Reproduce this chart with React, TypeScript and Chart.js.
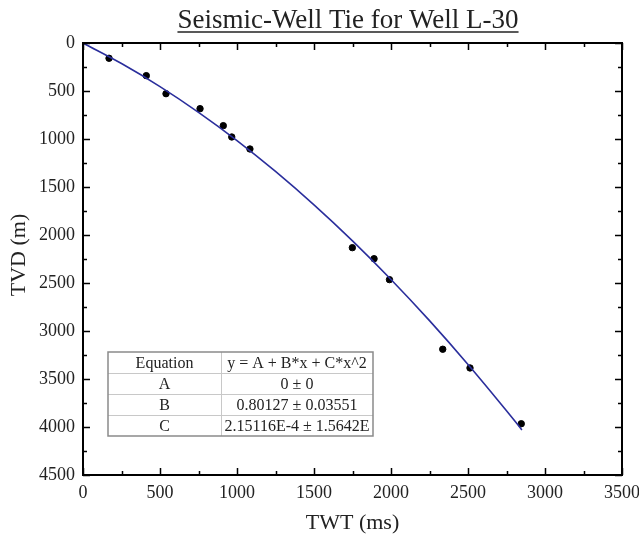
import React, { useEffect, useRef } from "react";
import { Chart, registerables } from "chart.js";

Chart.register(...registerables);

const TITLE = "Seismic-Well Tie for Well L-30";
const X_TITLE = "TWT (ms)";
const Y_TITLE = "TVD (m)";

// Measured data points (TWT ms, TVD m)
const TWT = [169, 411, 539, 760, 911, 966, 1084, 1749, 1890, 1990, 2336, 2513, 2846];
const TVD = [159, 340, 528, 684, 861, 979, 1104, 2132, 2247, 2465, 3190, 3385, 3966];

// Fit curve
const FIT_X = [0, 250, 500, 750, 1000, 1250, 1500, 1750, 2000, 2250, 2500, 2750, 2850];
const FIT_Y = [0, 214, 454, 722, 1016, 1338, 1686, 2061, 2463, 2892, 3348, 3830, 4031];

const X_MIN = 0, X_MAX = 3500, X_STEP = 500;
const Y_MIN = 0, Y_MAX = 4500, Y_STEP = 500;

const TABLE_ROWS: [string, string][] = [
  ["Equation", "y = A + B*x + C*x^2"],
  ["A", "0 \u00b1 0"],
  ["B", "0.80127 \u00b1 0.03551"],
  ["C", "2.15116E-4 \u00b1 1.5642E"],
];

const SERIF = '"Liberation Serif", "Times New Roman", serif';

const decorPlugin = {
  id: "decor",
  afterDatasetsDraw(chart: any) {
    const { ctx, chartArea: a, scales } = chart;
    const xs = scales.x, ys = scales.y;
    ctx.save();
    // frame
    ctx.strokeStyle = "#000";
    ctx.lineWidth = 2;
    ctx.strokeRect(a.left, a.top, a.right - a.left, a.bottom - a.top);
    // ticks
    ctx.lineWidth = 1.5;
    ctx.beginPath();
    for (let v = X_MIN; v <= X_MAX; v += X_STEP / 2) {
      const px = Math.round(xs.getPixelForValue(v)) + 0.5;
      const len = v % X_STEP === 0 ? 7 : 4;
      ctx.moveTo(px, a.bottom); ctx.lineTo(px, a.bottom - len);
      ctx.moveTo(px, a.top); ctx.lineTo(px, a.top + len);
    }
    for (let v = Y_MIN; v <= Y_MAX; v += Y_STEP / 2) {
      const py = Math.round(ys.getPixelForValue(v)) + 0.5;
      const len = v % Y_STEP === 0 ? 7 : 4;
      ctx.moveTo(a.left, py); ctx.lineTo(a.left + len, py);
      ctx.moveTo(a.right, py); ctx.lineTo(a.right - len, py);
    }
    ctx.stroke();

    // table
    const tl = a.left + 25, tr = a.left + 290, tm = a.left + 138;
    const tt = a.top + 309, rh = 21;
    ctx.strokeStyle = "#c8c8c8";
    ctx.lineWidth = 1;
    for (let i = 1; i < TABLE_ROWS.length; i++) {
      const y = Math.round(tt + i * rh) + 0.5;
      ctx.beginPath(); ctx.moveTo(tl, y); ctx.lineTo(tr, y); ctx.stroke();
    }
    ctx.beginPath(); ctx.moveTo(tm + 0.5, tt); ctx.lineTo(tm + 0.5, tt + rh * TABLE_ROWS.length); ctx.stroke();
    ctx.strokeStyle = "#8a8a8a";
    ctx.lineWidth = 1.5;
    ctx.strokeRect(tl, tt, tr - tl, rh * TABLE_ROWS.length);
    ctx.fillStyle = "#222";
    ctx.font = `16px ${SERIF}`;
    ctx.textAlign = "center";
    ctx.textBaseline = "middle";
    TABLE_ROWS.forEach((r, i) => {
      const cy = tt + i * rh + rh / 2 + 1;
      ctx.fillText(r[0], (tl + tm) / 2, cy);
      ctx.fillText(r[1], (tm + tr) / 2, cy);
    });

    // title
    ctx.fillStyle = "#222";
    ctx.font = `27px ${SERIF}`;
    ctx.textAlign = "center";
    ctx.textBaseline = "alphabetic";
    const cx = 348;
    ctx.fillText(TITLE, cx, 28);
    const w = ctx.measureText(TITLE).width;
    ctx.strokeStyle = "#222";
    ctx.lineWidth = 1.5;
    ctx.beginPath(); ctx.moveTo(cx - w / 2, 32); ctx.lineTo(cx + w / 2, 32); ctx.stroke();

    // axis titles
    ctx.font = `22px ${SERIF}`;
    ctx.textBaseline = "middle";
    ctx.fillText(X_TITLE, (a.left + a.right) / 2, 523);
    ctx.save();
    ctx.translate(19, (a.top + a.bottom) / 2 - 4);
    ctx.rotate(-Math.PI / 2);
    ctx.fillText(Y_TITLE, 0, 0);
    ctx.restore();
    ctx.restore();
  },
};

export default function App() {
  const ref = useRef<HTMLCanvasElement>(null);
  useEffect(() => {
    document.body.style.margin = "0";
    const chart = new Chart(ref.current as HTMLCanvasElement, {
      type: "scatter",
      data: {
        datasets: [
          {
            type: "line",
            label: "Fit",
            data: FIT_X.map((x, i) => ({ x, y: FIT_Y[i] })),
            borderColor: "#2a2e9c",
            borderWidth: 1.6,
            pointRadius: 0,
            tension: 0.4,
            fill: false,
          } as any,
          {
            label: "Data",
            data: TWT.map((x, i) => ({ x, y: TVD[i] })),
            backgroundColor: "#000",
            borderColor: "#000",
            pointRadius: 3.2,
            pointHoverRadius: 3.2,
          },
        ],
      },
      options: {
        animation: false,
        responsive: false,
        events: [],
        layout: { padding: { top: 43, right: 17, left: 0, bottom: 0 } },
        plugins: { legend: { display: false }, tooltip: { enabled: false }, title: { display: false } },
        scales: {
          x: {
            type: "linear",
            min: X_MIN,
            max: X_MAX,
            grid: { display: false, drawTicks: false },
            border: { display: false },
            afterFit: (s: any) => { s.height = 65; s.paddingRight = 0; s.paddingLeft = 0; },
            ticks: {
              stepSize: X_STEP,
              padding: 7,
              color: "#222",
              font: { family: SERIF, size: 18 },
              maxRotation: 0,
              autoSkip: false,
              callback: (v: any) => String(v),
            },
          },
          y: {
            type: "linear",
            min: Y_MIN,
            max: Y_MAX,
            reverse: true,
            grid: { display: false, drawTicks: false },
            border: { display: false },
            afterFit: (s: any) => { s.width = 83; s.paddingTop = 0; s.paddingBottom = 0; },
            ticks: {
              stepSize: Y_STEP,
              padding: 8,
              color: "#222",
              font: { family: SERIF, size: 18 },
              autoSkip: false,
              callback: (v: any) => String(v),
            },
          },
        },
      },
      plugins: [decorPlugin],
    });
    return () => chart.destroy();
  }, []);
  return (
    <div style={{ position: "relative", width: 639, height: 540 }}>
      <canvas ref={ref} width={639} height={540} style={{ display: "block" }} />
    </div>
  );
}
